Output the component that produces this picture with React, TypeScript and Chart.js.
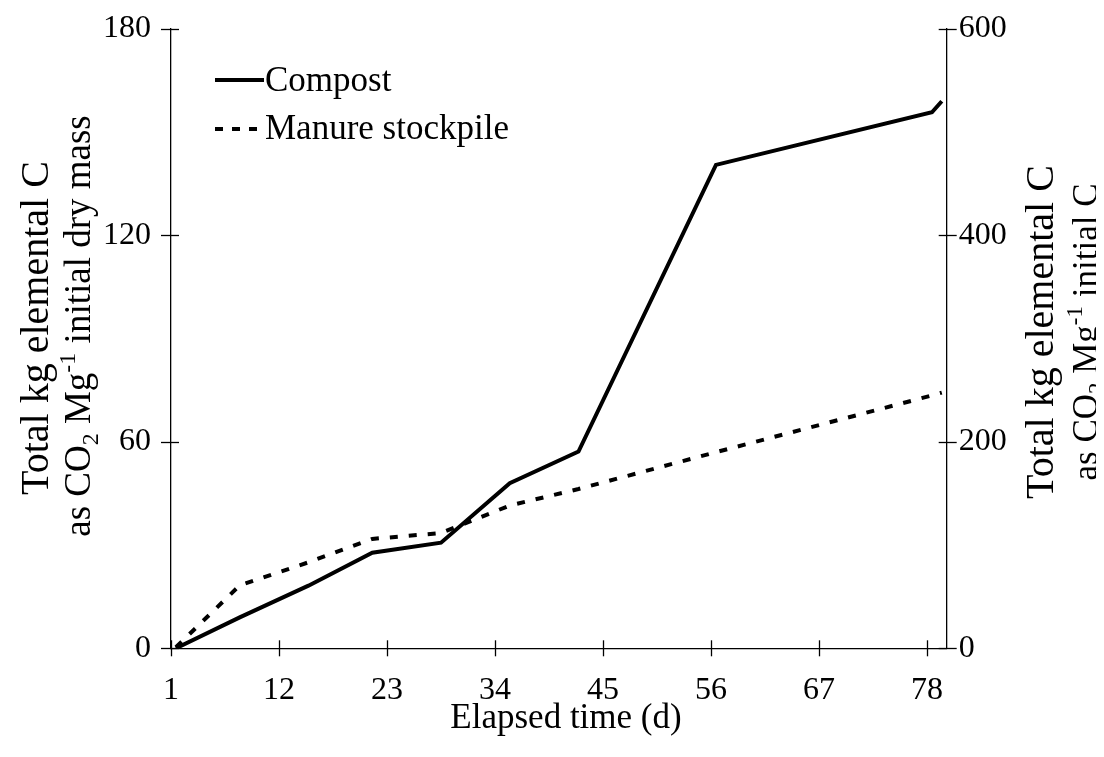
import React, { useEffect, useRef } from "react";
import { Chart, registerables } from "chart.js";

Chart.register(...registerables);

// Elapsed days at each sampling point
const days = [1.5, 8, 15, 21.5, 28.5, 35.5, 42.5, 56.5, 78.5, 79.5];
// Cumulative kg C as CO2 per Mg initial dry mass
const compost = [0, 9, 18.2, 27.8, 30.7, 48, 57.2, 140.5, 155.8, 159];
const manure = [0.3, 18.3, 25, 31.8, 33.5, 41.5, 46.3, 57, 73.5, 74.3];

const xTicks = [1, 12, 23, 34, 45, 56, 67, 78];
const leftTicks = [0, 60, 120, 180];
const rightTicks = [0, 200, 400, 600];

const seriesNames = ["Compost", "Manure stockpile"];
const xTitle = "Elapsed time (d)";

const FONT = "'Liberation Serif', 'Times New Roman', serif";
const W = 1088;
const H = 741;

type Seg = { t: string; k?: "sub" | "sup" };

const line1: Seg[] = [{ t: "Total kg elemental C" }];
const leftLine2: Seg[] = [
  { t: "as CO" },
  { t: "2", k: "sub" },
  { t: " Mg" },
  { t: "-1", k: "sup" },
  { t: " initial dry mass" },
];
const rightLine2: Seg[] = [
  { t: "as CO" },
  { t: "2", k: "sub" },
  { t: " Mg" },
  { t: "-1", k: "sup" },
  { t: " initial C" },
];

// Draws a line of text turned 90° counter-clockwise, with sub/superscripts
function drawRotatedRich(
  ctx: CanvasRenderingContext2D,
  segs: Seg[],
  cx: number,
  cy: number,
  size: number
) {
  const small = Math.round(size * 0.65);
  const fontFor = (s: Seg) => `${s.k ? small : size}px ${FONT}`;
  let total = 0;
  const widths = segs.map((s) => {
    ctx.font = fontFor(s);
    const w = ctx.measureText(s.t).width;
    total += w;
    return w;
  });
  ctx.save();
  ctx.translate(cx, cy);
  ctx.rotate(-Math.PI / 2);
  ctx.fillStyle = "#000";
  ctx.textBaseline = "alphabetic";
  ctx.textAlign = "left";
  let x = -total / 2;
  const base = size * 0.33;
  segs.forEach((s, i) => {
    ctx.font = fontFor(s);
    let dy = 0;
    if (s.k === "sub") dy = size * 0.22;
    if (s.k === "sup") dy = -size * 0.42;
    ctx.fillText(s.t, x, base + dy);
    x += widths[i];
  });
  ctx.restore();
}

const decorPlugin = {
  id: "decor",
  afterDraw(chart: any) {
    const ctx: CanvasRenderingContext2D = chart.ctx;
    const xs = chart.scales.x;
    const yl = chart.scales.y;
    const yr = chart.scales.y2;
    ctx.save();
    ctx.strokeStyle = "#000";
    ctx.lineWidth = 1.3;
    // tick marks crossing each axis
    xTicks.forEach((v) => {
      const px = Math.round(xs.getPixelForValue(v)) + 0.5;
      ctx.beginPath();
      ctx.moveTo(px, xs.top - 8);
      ctx.lineTo(px, xs.top + 8);
      ctx.stroke();
    });
    leftTicks.forEach((v) => {
      const py = Math.round(yl.getPixelForValue(v)) + 0.5;
      ctx.beginPath();
      ctx.moveTo(yl.right - 10, py);
      ctx.lineTo(yl.right + 8, py);
      ctx.stroke();
    });
    rightTicks.forEach((v) => {
      const py = Math.round(yr.getPixelForValue(v)) + 0.5;
      ctx.beginPath();
      ctx.moveTo(yr.left - 8, py);
      ctx.lineTo(yr.left + 10, py);
      ctx.stroke();
    });

    // legend
    ctx.lineWidth = 4;
    ctx.beginPath();
    ctx.moveTo(207, 72);
    ctx.lineTo(256, 72);
    ctx.stroke();
    ctx.setLineDash([8, 9]);
    ctx.beginPath();
    ctx.moveTo(207, 121);
    ctx.lineTo(252, 121);
    ctx.stroke();
    ctx.setLineDash([]);
    ctx.fillStyle = "#000";
    ctx.font = `35px ${FONT}`;
    ctx.textBaseline = "middle";
    ctx.textAlign = "left";
    ctx.fillText(seriesNames[0], 257, 74);
    ctx.fillText(seriesNames[1], 257, 122);

    // x-axis title
    ctx.textAlign = "center";
    ctx.font = `35px ${FONT}`;
    ctx.fillText(xTitle, 558, 711);

    // y-axis titles
    const cy = 320;
    drawRotatedRich(ctx, line1, 27, cy, 40);
    drawRotatedRich(ctx, leftLine2, 70, cy - 2, 37);
    drawRotatedRich(ctx, line1, 1032, cy + 4, 40);
    drawRotatedRich(ctx, rightLine2, 1077, cy + 4, 35);
    ctx.restore();
  },
};

// Keeps tick-label overhang from shifting the plot area
const noOverhang = (axis: any) => {
  axis.paddingTop = 0;
  axis.paddingBottom = 0;
};

export default function App() {
  const ref = useRef<HTMLCanvasElement | null>(null);

  useEffect(() => {
    if (!ref.current) return;
    const tickFont = { family: FONT, size: 32 };
    const chart = new Chart(ref.current, {
      type: "line",
      data: {
        datasets: [
          {
            label: seriesNames[0],
            data: days.map((d, i) => ({ x: d, y: compost[i] })),
            borderColor: "#000",
            borderWidth: 4,
            pointRadius: 0,
            tension: 0,
            fill: false,
            yAxisID: "y",
          },
          {
            label: seriesNames[1],
            data: days.map((d, i) => ({ x: d, y: manure[i] })),
            borderColor: "#000",
            borderWidth: 4,
            borderDash: [8, 11],
            pointRadius: 0,
            tension: 0,
            fill: false,
            yAxisID: "y",
          },
        ],
      },
      options: {
        responsive: false,
        animation: false,
        layout: { padding: { top: 21, left: 0, right: 0, bottom: 0 } },
        plugins: {
          legend: { display: false },
          tooltip: { enabled: false },
        },
        scales: {
          x: {
            type: "linear",
            min: 1,
            max: 80,
            afterBuildTicks: (axis: any) => {
              axis.ticks = xTicks.map((v) => ({ value: v }));
            },
            afterFit: (axis: any) => {
              axis.height = 100.7;
              axis.paddingLeft = 0;
              axis.paddingRight = 0;
            },
            grid: { display: false, drawTicks: false },
            border: { display: true, color: "#000", width: 1.3 },
            ticks: {
              color: "#000",
              font: tickFont,
              padding: 23,
              maxRotation: 0,
              autoSkip: false,
            },
          },
          y: {
            type: "linear",
            position: "left",
            min: 0,
            max: 180,
            afterBuildTicks: (axis: any) => {
              axis.ticks = leftTicks.map((v) => ({ value: v }));
            },
            afterFit: (axis: any) => {
              axis.width = 163;
              noOverhang(axis);
            },
            grid: { display: false, drawTicks: false },
            border: { display: true, color: "#000", width: 1.3 },
            ticks: { color: "#000", font: tickFont, padding: 20 },
          },
          y2: {
            type: "linear",
            position: "right",
            min: 0,
            max: 600,
            afterBuildTicks: (axis: any) => {
              axis.ticks = rightTicks.map((v) => ({ value: v }));
            },
            afterFit: (axis: any) => {
              axis.width = 149.3;
              noOverhang(axis);
            },
            grid: { display: false, drawTicks: false },
            border: { display: true, color: "#000", width: 1.3 },
            ticks: { color: "#000", font: tickFont, padding: 12 },
          },
        },
      },
      plugins: [decorPlugin],
    });
    return () => chart.destroy();
  }, []);

  return (
    <div style={{ width: W, height: H }}>
      <canvas ref={ref} width={W} height={H} style={{ display: "block" }} />
    </div>
  );
}
